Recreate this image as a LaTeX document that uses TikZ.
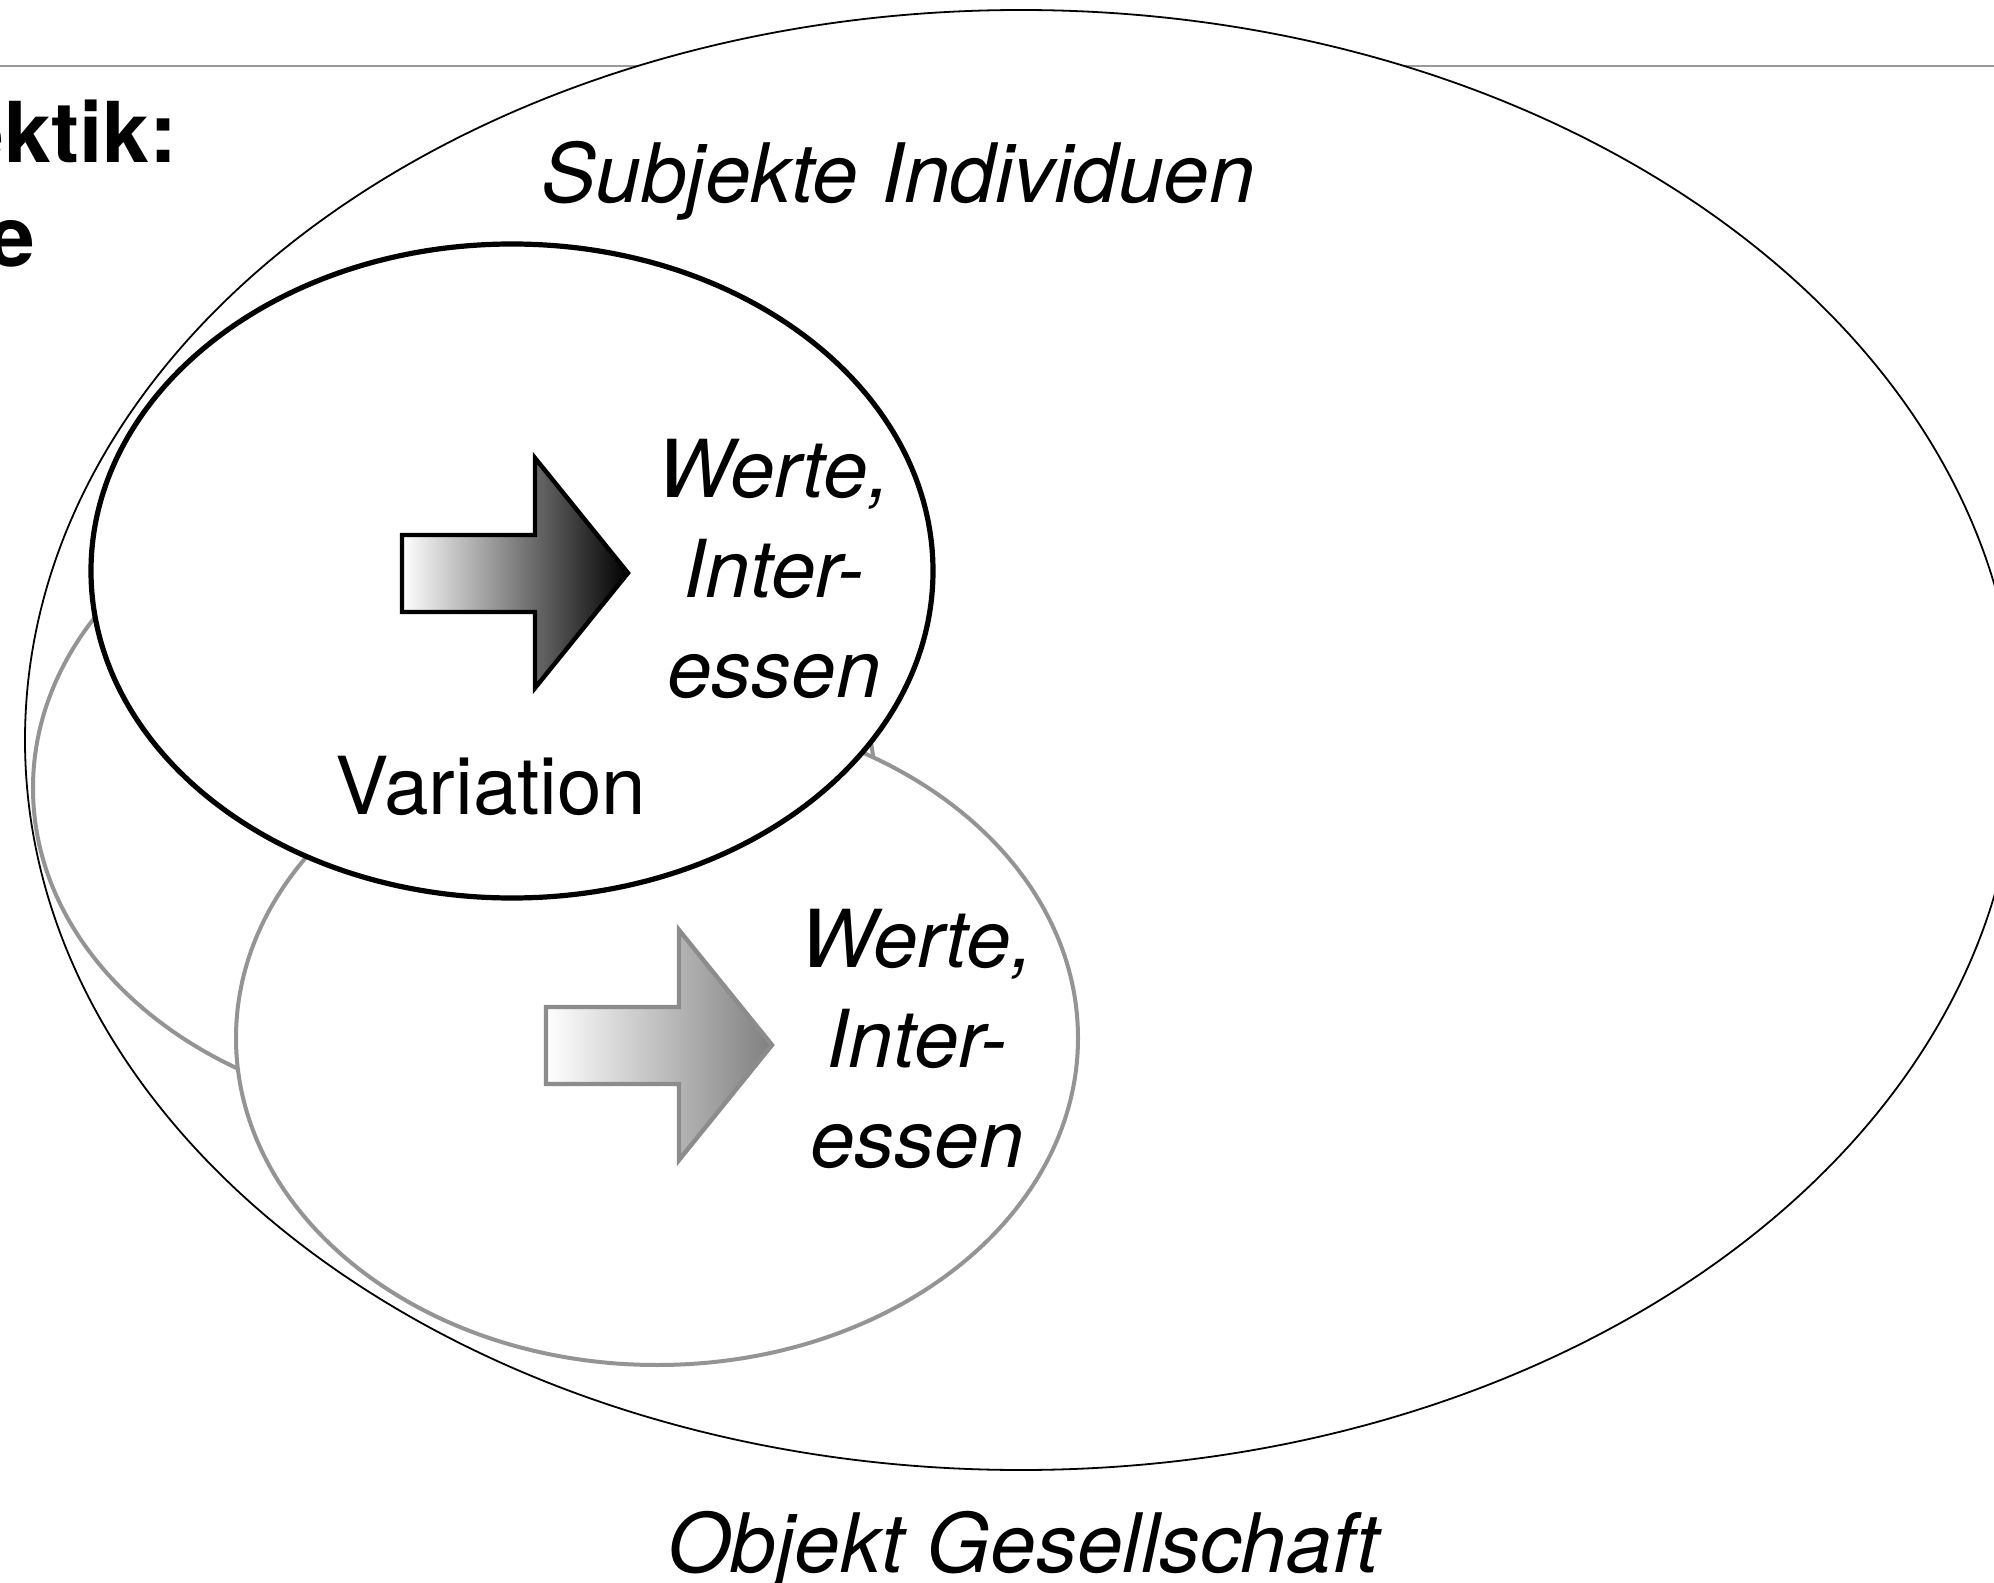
\documentclass[tikz,border=0pt]{standalone}
\usepackage{fontspec}
\setmainfont{TeX Gyre Heros}
\usetikzlibrary{shapes.geometric, positioning}
\tikzset{
  oval/.style={ellipse, draw, fill=white, inner sep=0pt, minimum width=210.5pt, minimum height=163.5pt},
  ghost/.style={oval, draw=black!42, line width=1pt},
  txt/.style={inner sep=0pt, font=\fontsize{20}{25}\selectfont},
  headline/.style={inner sep=0pt, font=\fontsize{21}{26}\selectfont\bfseries},
  fatarrow/.style={line width=1.1pt, draw=black, left color=white, right color=black},
  palearrow/.style={fatarrow, draw=black!45, right color=black!50}
}

\begin{document}
\begin{tikzpicture}[x=0.25pt, y=-0.25pt]
  \clip (0,0) rectangle (1994,1583);
  % Rule and frame
  \coordinate (rule west) at (0,66);
  \coordinate (rule east) at (1994,66);
  \draw[black!40, line width=0.6pt] (rule west) -- (rule east);
  \node[ellipse, draw, fill=white, inner sep=0pt, line width=0.45pt,
        minimum width=498pt, minimum height=365pt] (society) at (1021,740) {};

  % Stacked ellipses
  \node[ghost] (back) at (454,788) {};
  \node[ghost] (lower) at (657,1038) {};
  \path[palearrow] (546,1007) -- (679,1007) -- (679,930) -- (772,1045)
    -- (679,1160) -- (679,1084) -- (546,1084) -- cycle;
  \node[txt, align=center, font=\fontsize{20}{25}\selectfont\itshape] (values2) at (917,1039) {Werte,\\Inter-\\essen};

  \node[oval, line width=1.3pt] (front) at (512,571) {};
  \path[fatarrow] (402,535) -- (535,535) -- (535,458) -- (628,573)
    -- (535,688) -- (535,612) -- (402,612) -- cycle;
  \node[txt, align=center, font=\fontsize{20}{25}\selectfont\itshape] (values1) at (774,569) {Werte,\\Inter-\\essen};
  \node[txt, anchor=base] (variation) at (491,814) {Variation};

  % Labels
  \node[txt, anchor=base, font=\fontsize{20.5}{25}\selectfont\itshape] (subjects) at (898,203) {Subjekte Individuen};
  \node[txt, anchor=base, font=\fontsize{20.5}{25}\selectfont\itshape] (object) at (1023,1572) {Objekt Gesellschaft};
  \node[headline, anchor=base east] (title1) at (178,163) {ektik:};
  \node[headline, anchor=base east] (title2) at (36,267) {e};
\end{tikzpicture}
\end{document}
